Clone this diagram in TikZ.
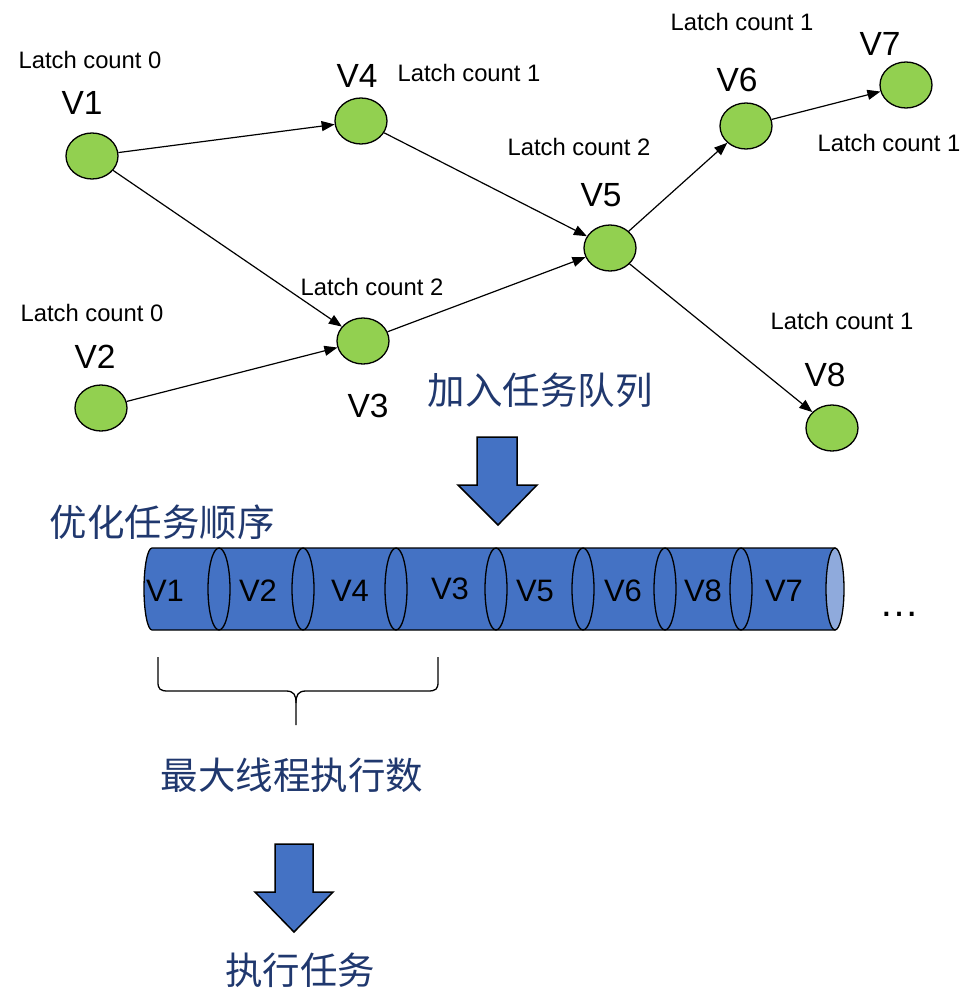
\documentclass[tikz,border=0pt]{standalone}
\usepackage{fontspec}
\setmainfont{Liberation Sans}
\newfontfamily\cjk{Noto Sans CJK SC}
\usetikzlibrary{shapes.geometric,arrows.meta}
\definecolor{nodegreen}{RGB}{146,208,80}
\definecolor{tubeblue}{RGB}{68,114,196}
\definecolor{tubeend}{RGB}{143,170,220}
\definecolor{navy}{RGB}{32,56,110}

\begin{document}
\begin{tikzpicture}[x=1pt,y=-1pt,
  vertex/.style={ellipse,draw,line width=1.3pt,fill=nodegreen,minimum width=52pt,minimum height=46pt,inner sep=0pt},
  latch/.style={font=\fontsize{23.8}{28}\selectfont,inner sep=0pt},
  vname/.style={font=\fontsize{33.5}{38}\selectfont,inner sep=0pt},
  qname/.style={font=\fontsize{31}{36}\selectfont,inner sep=0pt},
  cnlabel/.style={font=\cjk\fontsize{37.5}{42}\selectfont,text=navy,inner sep=0pt},
  dep/.style={-{Triangle[length=13pt,width=10pt]},line width=1.2pt},
  blockarrow/.style={draw,line width=1.5pt,fill=tubeblue,line join=miter},
  tube/.style={draw,line width=1.3pt}
  ]
\useasboundingbox (0,0) rectangle (961,990);

% task graph
\node[vertex] (v1) at (92,156) {};
\node[vertex] (v4) at (361,121) {};
\node[vertex] (v2) at (101,408) {};
\node[vertex] (v3) at (363,341) {};
\node[vertex] (v5) at (610,248) {};
\node[vertex] (v6) at (746,126) {};
\node[vertex] (v7) at (906,85) {};
\node[vertex] (v8) at (832,428) {};

\draw[dep] (v1) -- (v4);
\draw[dep] (v1) -- (v3);
\draw[dep] (v2) -- (v3);
\draw[dep] (v4) -- (v5);
\draw[dep] (v3) -- (v5);
\draw[dep] (v5) -- (v6);
\draw[dep] (v6) -- (v7);
\draw[dep] (v5) -- (v8);

% vertex names
\node[vname] (n1) at (82,103) {V1};
\node[vname] (n4) at (357,76) {V4};
\node[vname] (n2) at (95,357) {V2};
\node[vname] (n3) at (368,406) {V3};
\node[vname] (n5) at (601,195) {V5};
\node[vname] (n6) at (737,80) {V6};
\node[vname] (n7) at (880,44) {V7};
\node[vname] (n8) at (825,375) {V8};

% latch counters
\node[latch] (l1) at (90,60) {Latch count 0};
\node[latch] (l4) at (469,73) {Latch count 1};
\node[latch] (l5) at (579,147) {Latch count 2};
\node[latch] (l6) at (742,22) {Latch count 1};
\node[latch] (l7) at (889,143) {Latch count 1};
\node[latch] (l3) at (372,287) {Latch count 2};
\node[latch] (l2) at (92,313) {Latch count 0};
\node[latch] (l8) at (842,321) {Latch count 1};

% captions
\node[cnlabel] (enq) at (540,390) {加入任务队列};
\node[cnlabel] (opt) at (162,522) {优化任务顺序};
\node[cnlabel] (maxt) at (292,775) {最大线程执行数};
\node[cnlabel] (run) at (300,970) {执行任务};

% block arrows
\draw[blockarrow] (477,437) -- (517,437) -- (517,485) -- (537,485) -- (498,525)
  -- (458,485) -- (477,485) -- cycle;
\draw[blockarrow] (275,844) -- (313,844) -- (313,892) -- (333,892) -- (294,932)
  -- (255,892) -- (275,892) -- cycle;

% task queue tube
\draw[tube,fill=tubeblue] (152,548) -- (835,548) -- (835,630) -- (152,630)
  arc[start angle=90,end angle=270,x radius=8,y radius=41] -- cycle;
\foreach \x in {219,303,396,496,583,665,741}
  \draw[tube] (\x,589) ellipse[x radius=11,y radius=41];
\draw[tube,fill=tubeend] (835,589) ellipse[x radius=9,y radius=41];

\node[qname] (q1) at (165,591) {V1};
\node[qname] (q2) at (258,591) {V2};
\node[qname] (q4) at (350,591) {V4};
\node[qname] (q3) at (450,589) {V3};
\node[qname] (q5) at (535,591) {V5};
\node[qname] (q6) at (623,591) {V6};
\node[qname] (q8) at (703,591) {V8};
\node[qname] (q7) at (784,591) {V7};
\node[font=\fontsize{40}{44}\selectfont,inner sep=0pt] (more) at (899,614) {…};

% brace under the first tasks
\draw[line width=1.3pt] (158,657) -- (158,682) .. controls (158,689) and (160,691) .. (168,691)
  -- (286,691) .. controls (294,691) and (296,695) .. (296,703) -- (296,725);
\draw[line width=1.3pt] (296,703) .. controls (296,695) and (298,691) .. (306,691)
  -- (428,691) .. controls (436,691) and (438,689) .. (438,682) -- (438,657);
\end{tikzpicture}
\end{document}
